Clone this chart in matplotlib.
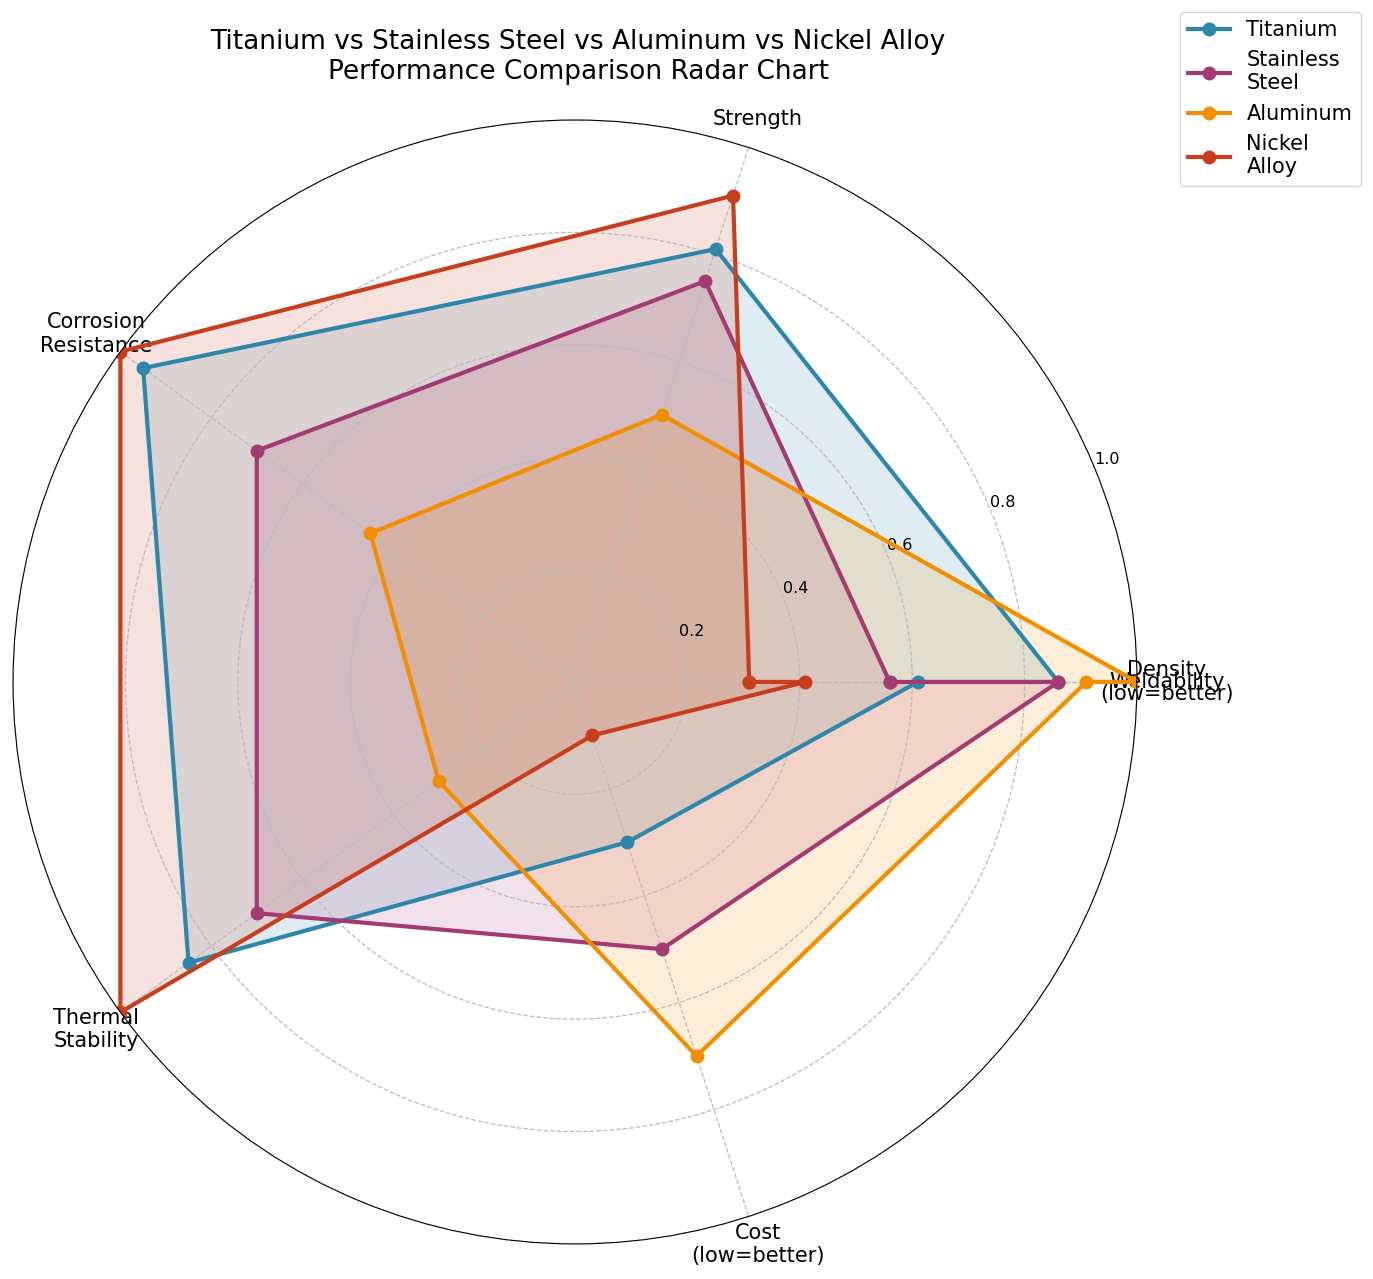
import matplotlib
matplotlib.use("Agg")
import matplotlib.pyplot as plt
import numpy as np

categories = ['Density\n(low=better)', 'Strength', 'Corrosion\nResistance',
              'Thermal\nStability', 'Cost\n(low=better)', 'Weldability']
materials = ['Titanium', 'Stainless\nSteel', 'Aluminum', 'Nickel\nAlloy']
titanium = [0.86, 0.81, 0.95, 0.85, 0.30, 0.61]
stainless = [0.56, 0.75, 0.70, 0.70, 0.50, 0.86]
aluminum = [1.00, 0.50, 0.45, 0.30, 0.70, 0.91]
nickel = [0.31, 0.91, 1.00, 1.00, 0.10, 0.41]
colors = ['#2E86AB', '#A23B72', '#F18F01', '#C73E1D']

# angles over a full turn: first and last category share the same spoke
angles = np.linspace(0, 2 * np.pi, len(categories)).tolist()
angles_closed = angles + angles[:1]

fig = plt.figure(figsize=(13.73, 12.79), dpi=100)
ax = fig.add_axes([0.0095, 0.0274, 0.8186, 0.8788], projection='polar')

for name, vals, c in zip(materials, [titanium, stainless, aluminum, nickel], colors):
    v = vals + vals[:1]
    ax.plot(angles_closed, v, 'o-', color=c, linewidth=3, markersize=9, label=name)
    ax.fill(angles_closed, v, color=c, alpha=0.15)

ax.set_xticks(angles)
ax.set_xticklabels(categories, fontsize=15)
ax.tick_params(axis='x', pad=11)
ax.set_ylim(0, 1)
ax.set_yticks([0.2, 0.4, 0.6, 0.8, 1.0])
ax.set_yticklabels(['0.2', '0.4', '0.6', '0.8', '1.0'], fontsize=11.5)
ax.grid(True, linestyle='--', color='#bbbbbb', linewidth=0.9)

fig.suptitle('Titanium vs Stainless Steel vs Aluminum vs Nickel Alloy\n'
             'Performance Comparison Radar Chart', fontsize=19,
             x=0.421, y=0.977, va='top')
fig.legend(loc='upper right', bbox_to_anchor=(0.991, 0.991),
           bbox_transform=fig.transFigure, fontsize=15, borderaxespad=0)

fig.savefig('out.png', dpi=100)
